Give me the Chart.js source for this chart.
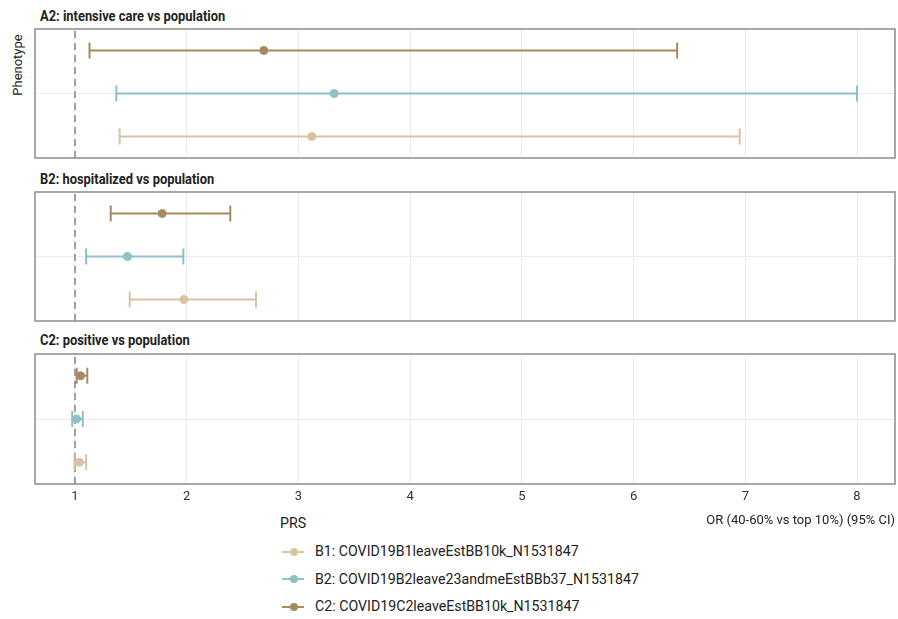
<!DOCTYPE html>
<html lang="en">
<head>
    <meta charset="UTF-8">
    <title>PRS OR forest plot</title>
    <script src="https://cdn.jsdelivr.net/npm/chart.js@4.4.1/dist/chart.umd.min.js"></script>
    <style>
        body { margin: 0; background: #fff; font-family: Roboto, "Noto Sans", sans-serif; }
        .page { position: relative; width: 898px; height: 619px; overflow: hidden; }
        .panel-canvas { position: absolute; left: 0; width: 898px; }
        .panel-title {
            position: absolute; left: 40px; font-weight: bold; font-size: 15px; color: #222;
            transform: scaleX(0.86); transform-origin: left center; white-space: nowrap; line-height: 16px;
        }
        .ylab {
            position: absolute; left: 17px; top: 65px; font-size: 13px; color: #222;
            transform: translate(-50%, -50%) rotate(-90deg); white-space: nowrap;
        }
        .legend { position: absolute; left: 280px; top: 513px; font-size: 14.2px; color: #222; }
        .legend-title { height: 25px; line-height: 20px; }
        .legend-item { position: relative; height: 27.5px; line-height: 27.5px; padding-left: 35px; white-space: nowrap; }
        .legend-key { position: absolute; left: 2px; top: 12.5px; width: 22px; height: 2px; }
        .legend-key span { position: absolute; left: 7.5px; top: -3px; width: 8px; height: 8px; border-radius: 50%; }
    </style>
</head>
<body>
<div class="page" id="page">
    <div class="ylab">Phenotype</div>
    <div class="legend" id="legend"><div class="legend-title">PRS</div></div>
</div>
<script>
    // 面板（表型）
    const panelTitles = [
        'A2: intensive care vs population',
        'B2: hospitalized vs population',
        'C2: positive vs population'
    ];

    // PRS 系列
    const seriesNames = [
        'B1: COVID19B1leaveEstBB10k_N1531847',
        'B2: COVID19B2leave23andmeEstBBb37_N1531847',
        'C2: COVID19C2leaveEstBB10k_N1531847'
    ];
    const seriesColors = ['#d8c3a5', '#8dc0c7', '#a58b5f'];

    // OR 以及 95% CI，每个数组按面板顺序 A2, B2, C2
    const orB1 = [3.12, 1.975, 1.04];
    const loB1 = [1.40, 1.49, 0.995];
    const hiB1 = [6.95, 2.62, 1.10];

    const orB2 = [3.32, 1.47, 1.015];
    const loB2 = [1.37, 1.10, 0.975];
    const hiB2 = [8.00, 1.97, 1.07];

    const orC2 = [2.69, 1.78, 1.05];
    const loC2 = [1.13, 1.32, 1.015];
    const hiC2 = [6.39, 2.39, 1.11];

    const xTicks = [1, 2, 3, 4, 5, 6, 7, 8];
    const refLine = 1;
    const xTitle = 'OR (40-60% vs top 10%) (95% CI)';

    const seriesOR = [orB1, orB2, orC2];
    const seriesLo = [loB1, loB2, loC2];
    const seriesHi = [hiB1, hiB2, hiC2];

    // 面板边框
    const panelBorder = {
        id: 'panelBorder',
        afterDraw(chart) {
            const { ctx, chartArea: a } = chart;
            ctx.save();
            ctx.strokeStyle = '#8c8c8c';
            ctx.lineWidth = 1.5;
            ctx.strokeRect(a.left, a.top, a.right - a.left, a.bottom - a.top);
            ctx.restore();
        }
    };

    const page = document.getElementById('page');
    const panelTops = [28, 191, 353];
    const titleTops = [8, 171, 332];

    panelTitles.forEach((title, p) => {
        const isLast = p === panelTitles.length - 1;

        const t = document.createElement('div');
        t.className = 'panel-title';
        t.style.top = titleTops[p] + 'px';
        t.textContent = title;
        page.appendChild(t);

        const canvas = document.createElement('canvas');
        canvas.className = 'panel-canvas';
        canvas.style.top = panelTops[p] + 'px';
        const h = isLast ? 180 : 131;
        canvas.width = 898;
        canvas.height = h;
        canvas.style.height = h + 'px';
        page.appendChild(canvas);

        const datasets = [];
        seriesNames.forEach((name, s) => {
            // 闪避位置：B1 在下，C2 在上
            const y = 1 + (s - 1) * 0.4;
            datasets.push({
                type: 'line',
                label: name + ' CI',
                data: [{ x: seriesLo[s][p], y: y }, { x: seriesHi[s][p], y: y }],
                borderColor: seriesColors[s],
                borderWidth: 2,
                pointStyle: 'line',
                rotation: 90,
                pointRadius: 8,
                pointBorderWidth: 2,
                pointBorderColor: seriesColors[s],
                clip: false,
                order: 2
            });
            datasets.push({
                type: 'scatter',
                label: name,
                data: [{ x: seriesOR[s][p], y: y }],
                backgroundColor: seriesColors[s],
                borderColor: seriesColors[s],
                pointRadius: 4,
                clip: false,
                order: 1
            });
        });
        datasets.push({
            type: 'line',
            label: 'ref',
            data: [{ x: refLine, y: 0.4 }, { x: refLine, y: 1.6 }],
            borderColor: '#a0a0a0',
            borderWidth: 2,
            borderDash: [7, 5],
            pointRadius: 0,
            order: 5
        });

        new Chart(canvas.getContext('2d'), {
            type: 'scatter',
            data: { datasets: datasets },
            options: {
                responsive: false,
                animation: false,
                layout: { autoPadding: false, padding: { left: 35, right: 3, top: 1, bottom: isLast ? 0 : 1 } },
                plugins: { legend: { display: false }, tooltip: { enabled: false } },
                scales: {
                    x: {
                        type: 'linear',
                        min: 0.642,
                        max: 8.34,
                        afterBuildTicks: s => { s.ticks = xTicks.map(v => ({ value: v })); },
                        afterFit: s => { s.height = isLast ? 49 : 0; s.paddingLeft = 0; s.paddingRight = 0; },
                        grid: { color: '#ebebeb', lineWidth: 1, drawTicks: false },
                        border: { display: false },
                        ticks: {
                            display: isLast,
                            padding: 5,
                            color: '#333',
                            font: { family: 'Roboto', size: 13 }
                        },
                        title: {
                            display: isLast,
                            text: xTitle,
                            align: 'end',
                            color: '#222',
                            padding: { top: 4, bottom: 4 },
                            font: { family: 'Roboto', size: 13 }
                        }
                    },
                    y: {
                        type: 'linear',
                        min: 0.4,
                        max: 1.6,
                        afterBuildTicks: s => { s.ticks = [{ value: 1 }]; },
                        afterFit: s => { s.width = 0; s.paddingTop = 0; s.paddingBottom = 0; },
                        grid: { color: '#ebebeb', lineWidth: 1, drawTicks: false },
                        border: { display: false },
                        ticks: { display: false }
                    }
                }
            },
            plugins: [panelBorder]
        });
    });

    // 图例
    const legend = document.getElementById('legend');
    seriesNames.forEach((name, s) => {
        const item = document.createElement('div');
        item.className = 'legend-item';
        item.innerHTML = `<div class="legend-key" style="background:${seriesColors[s]}"><span style="background:${seriesColors[s]}"></span></div>${name}`;
        legend.appendChild(item);
    });
</script>
</body>
</html>
